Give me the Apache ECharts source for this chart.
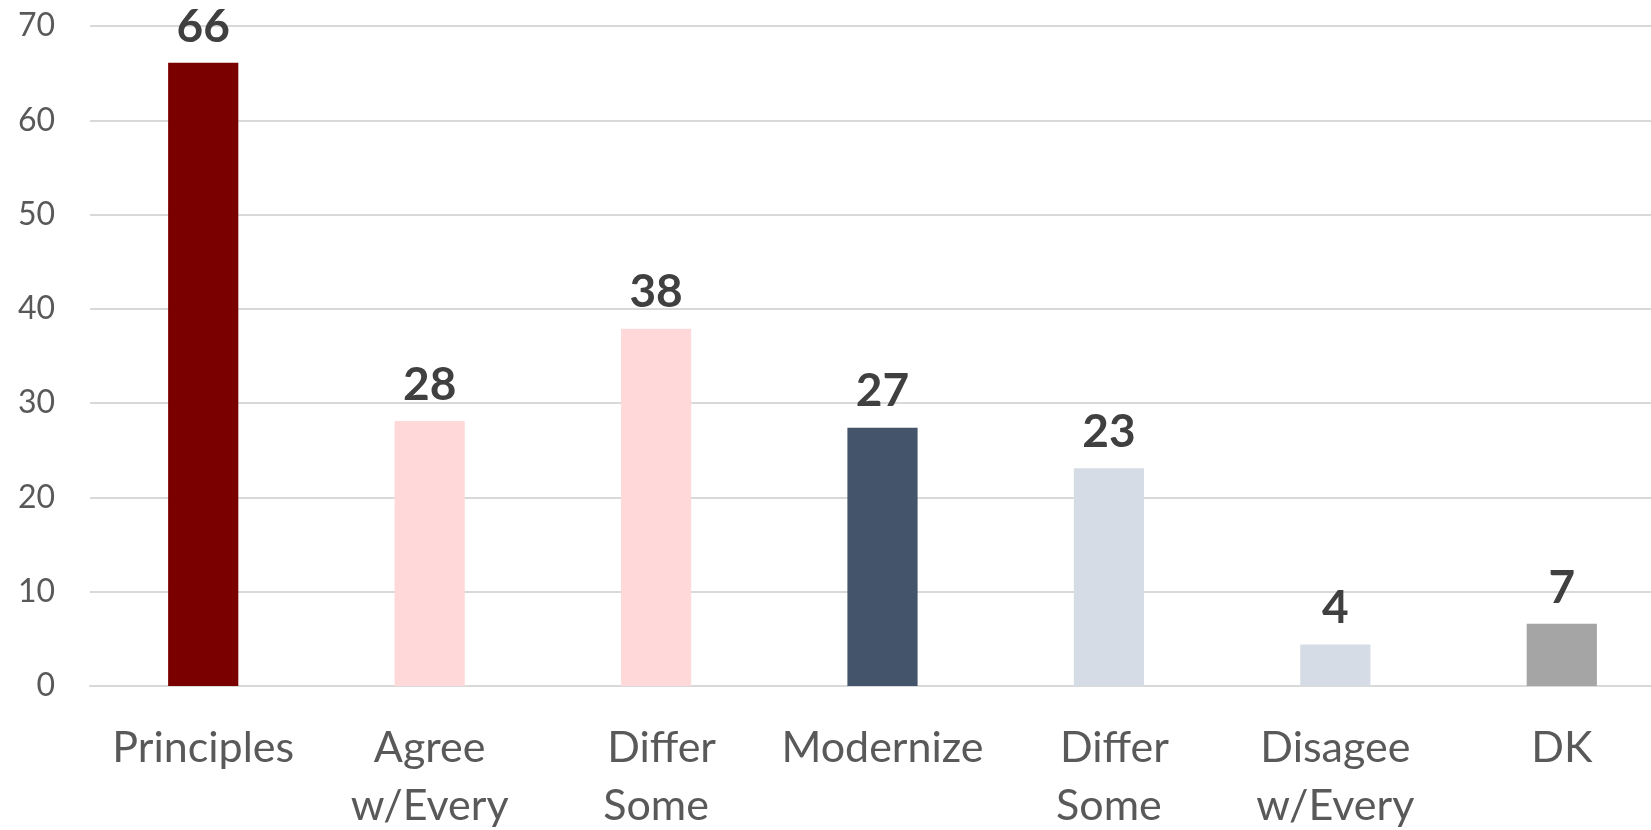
<!DOCTYPE html>
<html>
<head>
<meta charset="utf-8">
<script src="https://cdn.jsdelivr.net/npm/echarts@6/dist/echarts.min.js"></script>
<style>
html,body{margin:0;padding:0;background:#fff;overflow:hidden;}
#chart{width:1675px;height:830px;}
</style>
</head>
<body>
<div id="chart"></div>
<script>
const categories = ['Principles', 'Agree\nw/Every', ' Differ\nSome', 'Modernize', ' Differ\nSome', 'Disagee\nw/Every', 'DK'];
const values = [66.1, 28.1, 37.9, 27.4, 23.1, 4.4, 6.6];
const barColors = ['#7A0000', '#FFD9DA', '#FFD9DA', '#44546A', '#D6DCE5', '#D6DCE5', '#A5A5A5'];
const yTicks = [0, 10, 20, 30, 40, 50, 60, 70];

const chart = echarts.init(document.getElementById('chart'), null, {renderer: 'canvas'});
chart.setOption({
  animation: false,
  backgroundColor: '#ffffff',
  grid: {left: 90, right: 0, top: 26, bottom: 144, containLabel: false, outerBoundsMode: 'none'},
  xAxis: {
    type: 'category',
    data: categories,
    axisLine: {show: true, lineStyle: {color: '#D9D9D9', width: 2}},
    axisTick: {show: false},
    axisLabel: {
      interval: 0,
      margin: 33,
      color: '#595959',
      fontFamily: 'Lato, "Open Sans", sans-serif',
      fontSize: 43,
      lineHeight: 58,
      verticalAlign: 'top'
    }
  },
  yAxis: {
    type: 'value',
    min: yTicks[0],
    max: yTicks[yTicks.length - 1],
    interval: 10,
    axisLine: {show: false},
    axisTick: {show: false},
    splitLine: {lineStyle: {color: '#D9D9D9', width: 2}},
    axisLabel: {
      margin: 35,
      color: '#595959',
      fontFamily: 'Lato, "Open Sans", sans-serif',
      fontSize: 32
    }
  },
  series: [{
    type: 'bar',
    data: values.map((v, i) => ({value: v, itemStyle: {color: barColors[i]}})),
    barWidth: '31%',
    label: {
      show: true,
      position: 'top',
      distance: 13,
      formatter: p => String(Math.round(p.value)),
      color: '#404040',
      fontWeight: 'bold',
      fontFamily: 'Lato, "Open Sans", sans-serif',
      fontSize: 46
    }
  }]
});
</script>
</body>
</html>
